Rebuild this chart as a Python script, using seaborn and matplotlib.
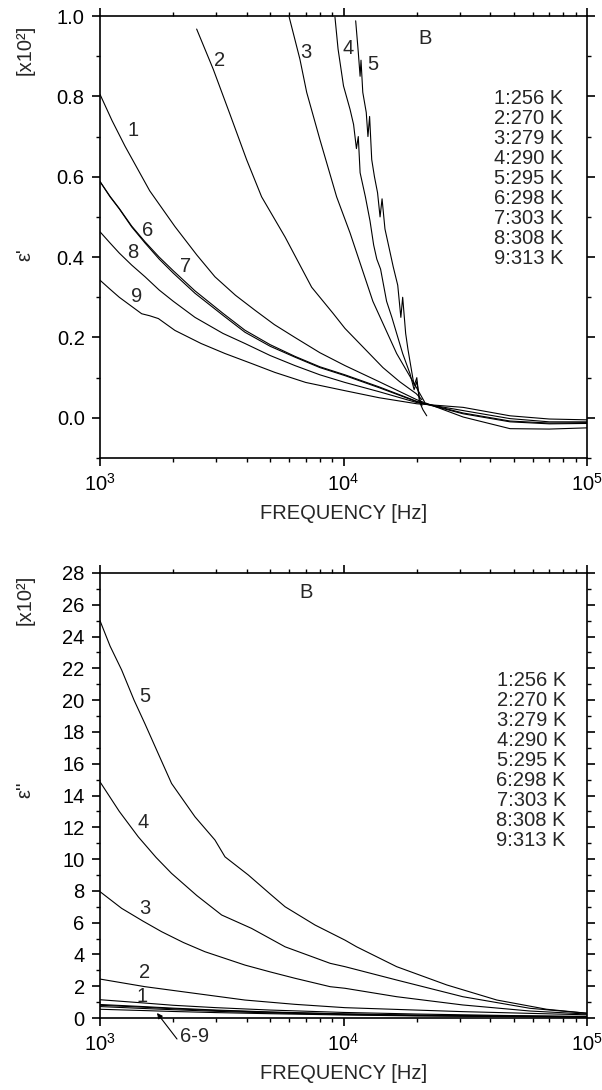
import numpy as np
import pandas as pd
import matplotlib
matplotlib.use("Agg")
import matplotlib.pyplot as plt
import seaborn as sns
from matplotlib.ticker import MultipleLocator, FixedLocator, LogLocator, NullFormatter, FormatStrFormatter

# ---------------- data ----------------
legend_labels = ["1:256 K", "2:270 K", "3:279 K", "4:290 K", "5:295 K",
                 "6:298 K", "7:303 K", "8:308 K", "9:313 K"]

# Top panel: eps' [x10^2]
t1_f = [1000, 1120, 1267, 1600, 2031, 2500, 2965, 3600, 4335, 5200, 6317, 8000, 10140, 14000, 20000, 31000, 48300, 70000, 100000]
t1_v = [0.805, 0.74, 0.676, 0.565, 0.476, 0.405, 0.351, 0.305, 0.2675, 0.232, 0.20, 0.162, 0.13, 0.09, 0.045, 0.002, -0.027, -0.028, -0.025]

t2_f = [2494, 2918, 3420, 4000, 4610, 5755, 7400, 9060, 10140, 14520, 17000, 19900, 21000]
t2_v = [0.9675, 0.8675, 0.755, 0.6425, 0.55, 0.45, 0.325, 0.26, 0.2225, 0.125, 0.09, 0.06, 0.045]

t3_f = [5985, 6622, 7060, 8000, 9370, 10640, 13200, 16530, 19900, 21500]
t3_v = [0.997, 0.8925, 0.81, 0.6925, 0.55, 0.46, 0.29, 0.16, 0.076, 0.04]

t4_f = [9225, 9500, 10000, 10640, 11000, 11300, 11500, 11700, 12300, 12850, 13300, 13700, 14200, 15030, 15800, 16530, 17500, 18750, 19500, 20000, 20500, 21000]
t4_v = [0.997, 0.9175, 0.826, 0.7675, 0.73, 0.67, 0.70, 0.61, 0.55, 0.49, 0.43, 0.395, 0.37, 0.29, 0.25, 0.21, 0.16, 0.11, 0.07, 0.09, 0.05, 0.03]

t5_f = [11220, 11500, 11700, 11800, 12000, 12400, 12600, 12800, 13060, 13400, 13800, 14130, 14400, 14800, 15300, 16000, 16700, 17200, 17500, 18000, 18400, 19000, 19500, 20000, 20500, 21200, 21970]
t5_v = [0.988, 0.91, 0.85, 0.89, 0.81, 0.76, 0.70, 0.75, 0.6425, 0.60, 0.56, 0.50, 0.545, 0.47, 0.43, 0.376, 0.33, 0.25, 0.30, 0.21, 0.17, 0.12, 0.08, 0.10, 0.04, 0.02, 0.005]

t6_f = [1000, 1100, 1200, 1350, 1531, 1750, 2000, 2455, 3200, 3938, 5000, 6317, 8000, 10140, 14000, 20000, 31000, 48300, 70000, 100000]
t6_v = [0.588, 0.55, 0.52, 0.475, 0.435, 0.395, 0.36, 0.31, 0.255, 0.213, 0.178, 0.151, 0.125, 0.105, 0.075, 0.04, 0.010, -0.01, -0.015, -0.014]

t7_f = [1000, 1100, 1200, 1350, 1531, 1750, 2000, 2455, 3200, 3938, 5000, 6317, 8000, 10140, 14000, 20000, 31000, 48300, 70000, 100000]
t7_v = [0.588, 0.551, 0.521, 0.477, 0.438, 0.4, 0.366, 0.316, 0.26, 0.218, 0.182, 0.153, 0.127, 0.107, 0.077, 0.041, 0.012, -0.008, -0.013, -0.012]

t8_f = [1000, 1100, 1200, 1350, 1531, 1750, 2000, 2455, 3200, 3938, 5000, 6317, 8000, 10140, 14000, 20000, 31000, 48300, 70000, 100000]
t8_v = [0.463, 0.435, 0.41, 0.38, 0.351, 0.318, 0.29, 0.25, 0.21, 0.185, 0.155, 0.13, 0.107, 0.088, 0.065, 0.038, 0.018, -0.002, -0.01, -0.01]

t9_f = [1000, 1100, 1200, 1483, 1600, 1737, 2031, 2600, 3261, 4200, 5227, 7000, 10140, 14000, 20000, 31000, 48300, 70000, 100000]
t9_v = [0.3425, 0.32, 0.30, 0.259, 0.254, 0.247, 0.2175, 0.185, 0.16, 0.135, 0.113, 0.088, 0.0675, 0.05, 0.035, 0.026, 0.005, -0.003, -0.005]

# Bottom panel: eps'' [x10^2]
b1_f = [1000, 1500, 2000, 3000, 5000, 10000, 20000, 50000, 100000]
b1_v = [1.15, 0.95, 0.8, 0.65, 0.5, 0.35, 0.25, 0.15, 0.1]

b2_f = [1000, 1531, 2455, 3938, 6317, 10140, 30900, 100000]
b2_v = [2.45, 1.97, 1.55, 1.13, 0.86, 0.65, 0.4, 0.2]

b3_f = [1000, 1227, 1500, 1791, 2200, 2698, 3938, 5000, 6317, 8815, 10140, 16530, 30900, 58300, 100000]
b3_v = [7.95, 6.9, 6.1, 5.43, 4.75, 4.17, 3.33, 2.9, 2.5, 1.97, 1.87, 1.34, 0.82, 0.44, 0.25]

b4_f = [1000, 1200, 1436, 1700, 1967, 2500, 3160, 4190, 5755, 8815, 10140, 16530, 30900, 58300, 100000]
b4_v = [14.86, 13.0, 11.4, 10.1, 9.1, 7.7, 6.48, 5.64, 4.48, 3.44, 3.23, 2.39, 1.34, 0.61, 0.3]

b5_f = [1000, 1100, 1227, 1380, 1531, 1750, 1967, 2455, 2965, 3261, 4064, 5000, 5755, 7640, 10140, 11320, 16530, 26550, 42650, 68300, 100000]
b5_v = [25.0, 23.4, 21.9, 20.0, 18.5, 16.5, 14.76, 12.66, 11.2, 10.14, 9.0, 7.8, 7.0, 5.85, 4.9, 4.48, 3.23, 2.08, 1.13, 0.55, 0.3]

b6_f = [1000, 1500, 2000, 3000, 5000, 10000, 20000, 50000, 100000]
b6_v = [0.85, 0.72, 0.62, 0.5, 0.38, 0.26, 0.18, 0.12, 0.08]
b7_f = [1000, 1500, 2000, 3000, 5000, 10000, 20000, 50000, 100000]
b7_v = [0.8, 0.68, 0.58, 0.47, 0.36, 0.25, 0.17, 0.11, 0.08]
b8_f = [1000, 1500, 2000, 3000, 5000, 10000, 20000, 50000, 100000]
b8_v = [0.72, 0.6, 0.52, 0.42, 0.32, 0.22, 0.15, 0.1, 0.07]
b9_f = [1000, 1500, 2000, 3000, 5000, 10000, 20000, 50000, 100000]
b9_v = [0.55, 0.47, 0.41, 0.34, 0.27, 0.19, 0.13, 0.09, 0.06]

top_curves = [(t1_f, t1_v), (t2_f, t2_v), (t3_f, t3_v), (t4_f, t4_v), (t5_f, t5_v),
              (t6_f, t6_v), (t7_f, t7_v), (t8_f, t8_v), (t9_f, t9_v)]
bot_curves = [(b1_f, b1_v), (b2_f, b2_v), (b3_f, b3_v), (b4_f, b4_v), (b5_f, b5_v),
              (b6_f, b6_v), (b7_f, b7_v), (b8_f, b8_v), (b9_f, b9_v)]

def to_long(curves):
    rows = []
    for i, (f, v) in enumerate(curves, start=1):
        for a, b in zip(f, v):
            rows.append((str(i), a, b))
    return pd.DataFrame(rows, columns=["curve", "freq", "val"])

df_top = to_long(top_curves)
df_bot = to_long(bot_curves)

# ---------------- style ----------------
sns.set_style("ticks")
plt.rcParams["font.family"] = ["Liberation Sans", "DejaVu Sans"]
plt.rcParams["mathtext.fontset"] = "custom"
plt.rcParams["mathtext.rm"] = "Liberation Sans"
plt.rcParams["mathtext.it"] = "Liberation Sans"
plt.rcParams["axes.linewidth"] = 1.2

W, H = 602, 1090
FS = 14.5
fig = plt.figure(figsize=(W / 100, H / 100), dpi=100)

def box(l, t, r, b):
    return [l / W, 1 - b / H, (r - l) / W, (b - t) / H]

ax1 = fig.add_axes(box(100, 16, 587, 458))
ax2 = fig.add_axes(box(100, 573, 587, 1018))

pal = ["black"] * 9
for ax, df in ((ax1, df_top), (ax2, df_bot)):
    sns.lineplot(data=df, x="freq", y="val", hue="curve", units="curve",
                 estimator=None, sort=False, palette=pal, lw=0.8,
                 legend=False, ax=ax)

minor_x = [k * 10 ** d for d in (3, 4) for k in range(2, 10)]
for ax in (ax1, ax2):
    ax.set_xscale("log")
    ax.set_xlim(1e3, 1e5)
    ax.xaxis.set_major_locator(LogLocator(base=10, numticks=10))
    ax.xaxis.set_minor_locator(FixedLocator(minor_x))
    ax.xaxis.set_minor_formatter(NullFormatter())
    ax.tick_params(which="both", direction="out", top=True, right=True,
                   labeltop=False, labelright=False, colors="black",
                   labelsize=FS)
    ax.tick_params(which="major", length=6, width=1.2, pad=5)
    ax.tick_params(which="minor", length=3, width=1.0)
    ax.set_xlabel("FREQUENCY [Hz]", fontsize=FS, labelpad=6)
    ax.set_ylabel("")
    for s in ax.spines.values():
        s.set_color("black")

ax1.set_ylim(-0.1, 1.0)
ax1.yaxis.set_major_locator(MultipleLocator(0.2))
ax1.yaxis.set_minor_locator(MultipleLocator(0.1))
ax1.yaxis.set_major_formatter(FormatStrFormatter("%.1f"))

ax2.set_ylim(0, 28)
ax2.yaxis.set_major_locator(MultipleLocator(2))
ax2.yaxis.set_minor_locator(MultipleLocator(1))

def ftext(x, y, s, **kw):
    fig.text(x / W, 1 - y / H, s, ha="center", va="center", fontsize=FS, **kw)

# y labels
ftext(25, 50, "[x10²]", rotation=90)
ftext(25, 255, "ε'", rotation=90)
ftext(25, 600, "[x10²]", rotation=90)
ftext(25, 790, "ε''", rotation=90)

# curve labels top
for s, (x, y) in zip(["1", "2", "3", "4", "5", "6", "7", "8", "9", "B"],
                     [(133, 130), (220, 60), (306, 52), (348, 48), (373, 65),
                      (148, 230), (186, 267), (133, 252), (137, 297), (425, 38)]):
    ftext(x, y, s)

# curve labels bottom
for s, (x, y) in zip(["5", "4", "3", "2", "1", "B"],
                     [(145, 697), (143, 823), (145, 908), (145, 973), (142, 997), (306, 592)]):
    ftext(x, y, s)

# temperature lists
for i, lab in enumerate(legend_labels):
    fig.text(563 / W, 1 - (98 + 20 * i) / H, lab, ha="right", va="center", fontsize=FS)
    fig.text(566 / W, 1 - (680 + 20 * i) / H, lab, ha="right", va="center", fontsize=FS)

# 6-9 annotation with arrow
ax2.annotate("", xy=(157 / W, 1 - 1013 / H), xycoords="figure fraction",
             xytext=(177 / W, 1 - 1039 / H), textcoords="figure fraction",
             arrowprops=dict(arrowstyle="-|>", color="black", lw=0.8,
                             shrinkA=0, shrinkB=0, mutation_scale=8))
ftext(195, 1036, "6-9")

fig.savefig("out.png", dpi=100)
